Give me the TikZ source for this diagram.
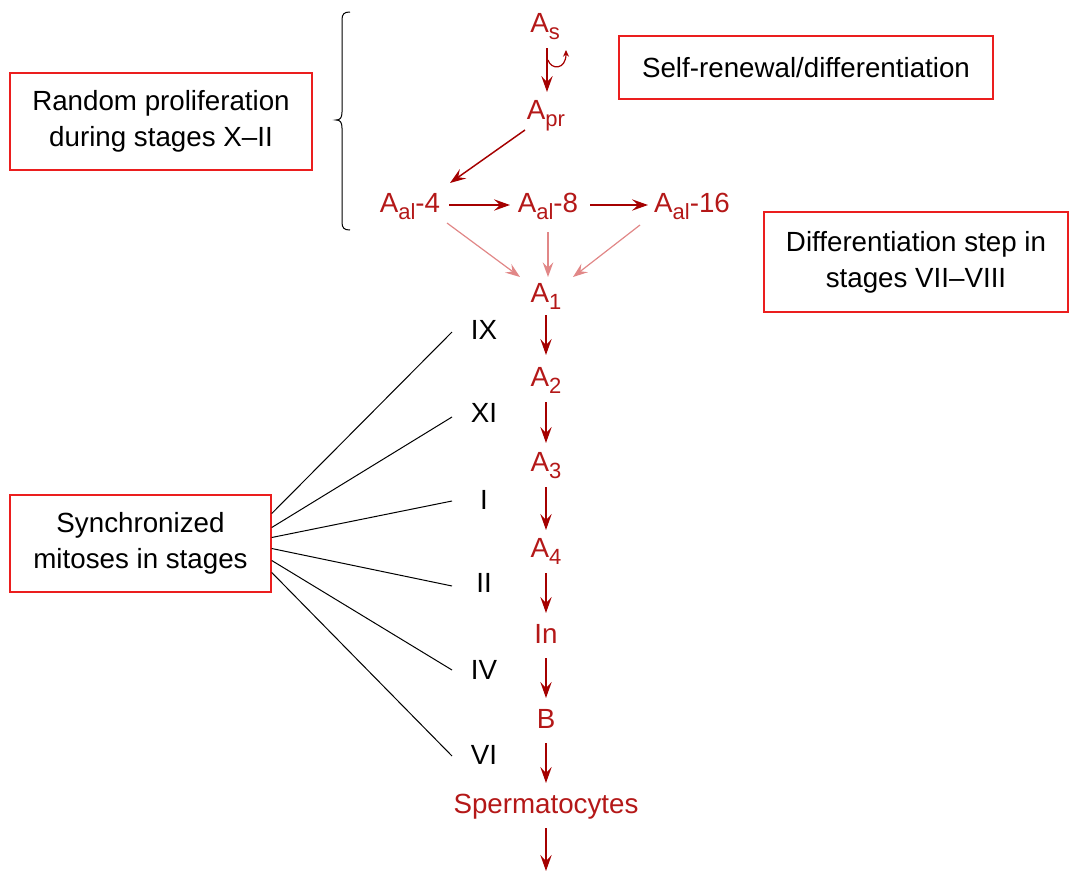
\documentclass[tikz,border=0pt]{standalone}
\usepackage{fontspec}
\setmainfont{Liberation Sans}
\usetikzlibrary{arrows.meta,calc}
\definecolor{celltext}{RGB}{180,24,24}
\definecolor{cellarrow}{RGB}{165,0,0}
\definecolor{softarrow}{RGB}{225,135,135}
\definecolor{boxred}{RGB}{235,30,30}
\newcommand{\sbs}[1]{\raisebox{-5pt}{\fontsize{16.5}{16.5}\selectfont #1}}
\begin{document}
\begin{tikzpicture}[x=0.75pt,y=-0.75pt,
  every node/.style={font=\fontsize{20.8}{27}\selectfont},
  cell/.style={text=celltext,inner sep=0pt,text height=14.9pt,text depth=0pt,anchor=center},
  stage/.style={text=black,inner sep=0pt,text height=14.9pt,text depth=0pt,anchor=center},
  note/.style={draw=boxred,line width=1.1pt,align=center,inner sep=0pt},
  arr/.style={draw=cellarrow,line width=1.1pt,-{Stealth[length=12pt,width=8.5pt,inset=4.5pt]}},
  soft/.style={draw=softarrow,line width=0.9pt,-{Stealth[length=11pt,width=8pt,inset=4pt]}},
  tie/.style={draw=black,line width=0.75pt}]
\useasboundingbox (0,0) rectangle (1076,871);
% boxes
\node[note,minimum width=302*0.75pt,minimum height=97*0.75pt] (rand) at (161,121.5) {Random proliferation\\during stages X--II};
\node[note,minimum width=374*0.75pt,minimum height=63*0.75pt] (self) at (806,67.5) {Self-renewal/differentiation};
\node[note,minimum width=304*0.75pt,minimum height=100*0.75pt] (diff) at (916,262) {Differentiation step in\\stages VII--VIII};
\node[note,minimum width=261*0.75pt,minimum height=97*0.75pt] (sync) at (140.5,543.5) {Synchronized\\mitoses in stages};
% brace
\draw[line width=0.75pt] (350,12) .. controls (344,12) and (342,14) .. (342,20) -- (342,112) .. controls (342,118) and (340,120) .. (336,120) .. controls (340,120) and (342,122) .. (342,128) -- (342,222) .. controls (342,228) and (344,230) .. (350,230);
% cells
\node[cell] (as) at (545,23) {A\sbs{s}};
\node[cell] (apr) at (546,110) {A\sbs{pr}};
\node[cell] (al4) at (410,203) {A\sbs{al}-4};
\node[cell] (al8) at (548,203) {A\sbs{al}-8};
\node[cell] (al16) at (692,203) {A\sbs{al}-16};
\node[cell] (a1) at (546,293) {A\sbs{1}};
\node[cell] (a2) at (546,377) {A\sbs{2}};
\node[cell] (a3) at (546,462) {A\sbs{3}};
\node[cell] (a4) at (546,548) {A\sbs{4}};
\node[cell] (in) at (546,634) {In};
\node[cell] (b) at (546,719) {B};
\node[cell] (sp) at (546,804) {Spermatocytes};
\coordinate (end) at (546,871);
% stages
\node[stage] (s9) at (484,330) {IX};
\node[stage] (s11) at (484,413) {XI};
\node[stage] (s1) at (484,500) {I};
\node[stage] (s2) at (484,583) {II};
\node[stage] (s4) at (484,670) {IV};
\node[stage] (s6) at (484,755) {VI};
% arrows
\draw[arr] ($(as)+(2,25)$) -- ($(apr)+(1,-18)$);
\draw[draw=cellarrow,line width=0.9pt,-{Stealth[length=5pt,width=4.5pt]}] ($(as)+(3,37)$) .. controls ($(as)+(6,47)$) and ($(as)+(21,47)$) .. ($(as)+(21,27)$);
\draw[arr] ($(apr)+(-21,20)$) -- ($(al4)+(40,-20)$);
\draw[arr] ($(al4)+(39,2)$) -- ($(al8)+(-38,2)$);
\draw[arr] ($(al8)+(42,2)$) -- ($(al16)+(-44,2)$);
\draw[soft] ($(al4)+(37,20)$) -- ($(a1)+(-26,-16)$);
\draw[soft] ($(al8)+(0,29)$) -- ($(a1)+(2,-16)$);
\draw[soft] ($(al16)+(-52,22)$) -- ($(a1)+(27,-16)$);
\draw[arr] ($(a1)+(0,22)$) -- ($(a2)+(0,-22)$);
\draw[arr] ($(a2)+(0,25)$) -- ($(a3)+(0,-19)$);
\draw[arr] ($(a3)+(0,25)$) -- ($(a4)+(0,-18)$);
\draw[arr] ($(a4)+(0,25)$) -- ($(in)+(0,-21)$);
\draw[arr] ($(in)+(0,24)$) -- ($(b)+(0,-21)$);
\draw[arr] ($(b)+(0,24)$) -- ($(sp)+(0,-21)$);
\draw[arr] ($(sp)+(0,24)$) -- (end);
% ties
\draw[tie] ($(sync.east)+(0,-30)$) -- ($(s9)+(-32,2)$);
\draw[tie] ($(sync.east)+(0,-16)$) -- ($(s11)+(-32,4)$);
\draw[tie] ($(sync.east)+(0,-6)$) -- ($(s1)+(-32,1)$);
\draw[tie] ($(sync.east)+(0,5)$) -- ($(s2)+(-32,3)$);
\draw[tie] ($(sync.east)+(0,17)$) -- ($(s4)+(-32,0)$);
\draw[tie] ($(sync.east)+(0,29)$) -- ($(s6)+(-32,1)$);
\end{tikzpicture}
\end{document}
